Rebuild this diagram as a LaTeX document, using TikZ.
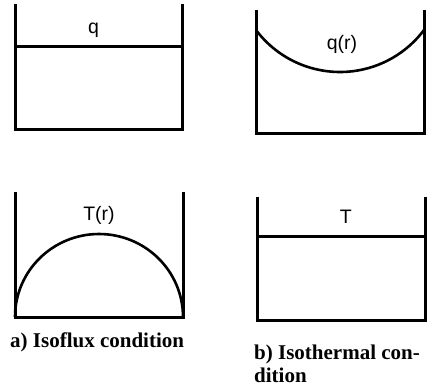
\documentclass[tikz,border=0pt]{standalone}
\usepackage{fontspec}
\setmainfont{Liberation Serif}
\newfontfamily\labelfont{Liberation Sans}
\begin{document}
\begin{tikzpicture}[x=1pt,y=-1pt,
  wall/.style={line width=3pt,line cap=butt},
  curve/.style={line width=2.6pt},
  lbl/.style={font=\labelfont\fontsize{19.5}{22}\selectfont,inner sep=0pt,anchor=base},
  captext/.style={font=\bfseries\fontsize{21}{22.5}\selectfont,inner sep=0pt,align=left,anchor=base west}]
\useasboundingbox (0,0) rectangle (427,386);
% panel a top: isoflux q
\draw[wall] (15,4) -- (15,129.5) -- (182.5,129.5) -- (182.5,4);
\draw[wall] (15,46) -- (182.5,46);
\node[lbl] (q) at (93.5,33.3) {q};
% panel b top: q(r)
\draw[wall] (256,10) -- (256,133) -- (424,133) -- (424,10);
\draw[curve] (256,30) arc[start angle=143.13,end angle=36.87,radius=105];
\node[lbl] (qr) at (342,49.4) {q(r)};
% panel a bottom: T(r)
\draw[wall] (15,192) -- (15,317) -- (183,317) -- (183,192);
\draw[curve] (15,317) arc[start angle=180,end angle=360,x radius=84,y radius=83];
\node[lbl] (Tr) at (99,220.5) {T(r)};
% panel b bottom: T
\draw[wall] (257,197) -- (257,320) -- (425,320) -- (425,197);
\draw[wall] (257,236) -- (425,236);
\node[lbl] (T) at (345.7,223.7) {T};
% captions
\node[captext] (capa) at (10,347) {a) Isoflux condition};
\node[captext] (capb) at (254,382) {b) Isothermal con-\\dition};
\end{tikzpicture}
\end{document}
